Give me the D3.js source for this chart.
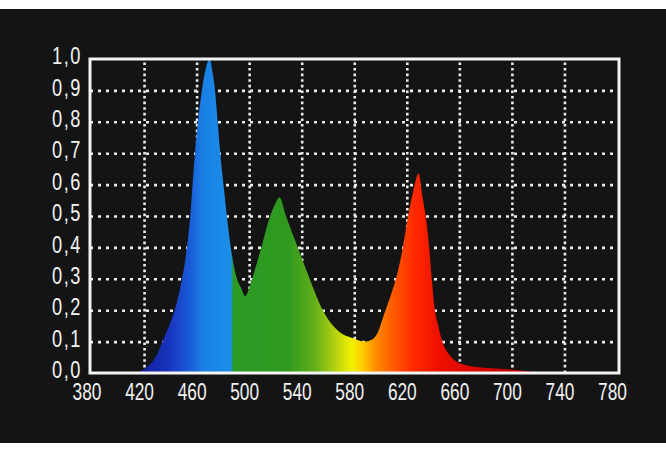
<!DOCTYPE html>
<html>
<head>
<meta charset="utf-8">
<script src="https://cdn.jsdelivr.net/npm/d3@7"></script>
<style>
  html, body { margin: 0; padding: 0; background: #ffffff; }
  svg { display: block; }
  .lbl text { font-family: "Liberation Sans", Arial, sans-serif; font-size: 24px; fill: #f2f2f2; }
  .ylbl text { letter-spacing: 2px; }
</style>
</head>
<body>
<div id="chart"></div>
<script>
// spectrum (wavelength in nm, relative intensity)
const wavelengths = [415, 420, 425, 430, 435, 440, 444, 448, 452, 455, 458, 461, 464, 467, 470,
  472, 474, 476, 478, 481, 483, 486, 490, 494, 497, 500, 503, 510, 516, 520, 523,
  528, 537, 546, 556, 562, 569, 578, 588, 593, 598, 603, 608, 613, 617, 621, 625, 629,
  632, 635, 637, 639, 641, 644, 647, 652, 658, 665, 672, 685, 696, 705, 716, 722];
const intensity = [0, 0.012, 0.03, 0.06, 0.11, 0.16, 0.21, 0.28, 0.38, 0.49, 0.66, 0.8, 0.9, 0.97, 1.0,
  0.96, 0.9, 0.8, 0.7, 0.58, 0.5, 0.4, 0.31, 0.27, 0.245, 0.27, 0.31, 0.41, 0.5, 0.54, 0.56,
  0.5, 0.4, 0.3, 0.2, 0.16, 0.13, 0.112, 0.1, 0.105, 0.13, 0.19, 0.25, 0.32, 0.4, 0.5, 0.58, 0.635,
  0.56, 0.48, 0.4, 0.3, 0.21, 0.15, 0.1, 0.06, 0.036, 0.025, 0.02, 0.015, 0.012, 0.009, 0.004, 0];

const xTicks = [380, 420, 460, 500, 540, 580, 620, 660, 700, 740, 780];
const yTicks = [0, 0.1, 0.2, 0.3, 0.4, 0.5, 0.6, 0.7, 0.8, 0.9, 1.0];

// colour of the fill per wavelength
const colorStops = [
  [400, "#0e0e5c"], [420, "#1220a0"], [440, "#1836bf"], [455, "#1a5cd8"], [465, "#1a80e4"],
  [486, "#1a8fe8"], [488, "#2b9a26"], [530, "#30991e"], [550, "#62b018"], [565, "#b2d010"],
  [578, "#f2f000"], [586, "#ffcc00"], [596, "#ff8e00"], [610, "#ff5800"], [625, "#ff2a00"],
  [645, "#ee0e00"], [700, "#c40000"], [740, "#a00000"]
];

const W = 666, H = 450;
const frame = { left: 90, top: 59, right: 619, bottom: 373 };

const svg = d3.select("#chart").append("svg")
  .attr("width", W).attr("height", H);

// black photo background
svg.append("rect")
  .attr("x", 0).attr("y", 9).attr("width", W).attr("height", 434)
  .attr("fill", "#141414");

const x = d3.scaleLinear().domain([380, 780]).range([91.5, 617]);
const y = d3.scaleLinear().domain([0, 1]).range([frame.bottom, frame.top]);

// grid lines (dotted)
svg.append("g")
  .attr("transform", "translate(0," + frame.bottom + ")")
  .call(d3.axisBottom(x).tickValues(xTicks.slice(1, -1)).tickSize(-(frame.bottom - frame.top)).tickFormat(""))
  .call(g => g.select(".domain").remove())
  .call(g => g.selectAll("line")
    .attr("stroke", "#ececec").attr("stroke-width", 2.6).attr("stroke-dasharray", "2.6,3"));

svg.append("g")
  .attr("transform", "translate(" + frame.left + ",0)")
  .call(d3.axisLeft(y).tickValues(yTicks.slice(1, -1)).tickSize(-(frame.right - frame.left)).tickFormat(""))
  .call(g => g.select(".domain").remove())
  .call(g => g.selectAll("line")
    .attr("stroke", "#ececec").attr("stroke-width", 2.6).attr("stroke-dasharray", "3,5"));

// gradient along wavelength
const grad = svg.append("defs").append("linearGradient")
  .attr("id", "spec")
  .attr("gradientUnits", "userSpaceOnUse")
  .attr("x1", x(380)).attr("x2", x(780)).attr("y1", 0).attr("y2", 0);
grad.selectAll("stop")
  .data(colorStops)
  .enter().append("stop")
    .attr("offset", d => (d[0] - 380) / 400)
    .attr("stop-color", d => d[1]);

const points = wavelengths.map((w, i) => [w, intensity[i]]);

const area = d3.area()
  .x(d => x(d[0]))
  .y0(y(0))
  .y1(d => y(d[1]))
  .curve(d3.curveMonotoneX);

svg.append("path")
  .datum(points)
  .attr("d", area)
  .attr("fill", "url(#spec)");

// white frame
svg.append("rect")
  .attr("x", frame.left).attr("y", frame.top)
  .attr("width", frame.right - frame.left).attr("height", frame.bottom - frame.top)
  .attr("fill", "none").attr("stroke", "#f4f4f4").attr("stroke-width", 3);

// axis labels (narrow, like the bitmap font of the original)
const comma = d3.formatLocale({ decimal: ",", thousands: ".", grouping: [3], currency: ["", ""] }).format(".1f");

svg.append("g")
  .attr("class", "lbl ylbl")
  .attr("transform", "translate(82,-4)")
  .call(d3.axisLeft(y).tickValues(yTicks).tickSize(0).tickPadding(0).tickFormat(comma))
  .call(g => g.select(".domain").remove())
  .call(g => g.selectAll("text").attr("x", 0).attr("dy", "0.36em").attr("transform", "scale(0.76,1)"));

svg.append("g")
  .attr("class", "lbl")
  .attr("transform", "translate(-5," + (frame.bottom + 9) + ")")
  .call(d3.axisBottom(x).tickValues(xTicks).tickSize(0).tickPadding(0).tickFormat(d3.format("d")))
  .call(g => g.select(".domain").remove())
  .call(g => g.selectAll("text").attr("dy", "0.76em").attr("transform", "scale(0.72,1)"));
</script>
</body>
</html>
